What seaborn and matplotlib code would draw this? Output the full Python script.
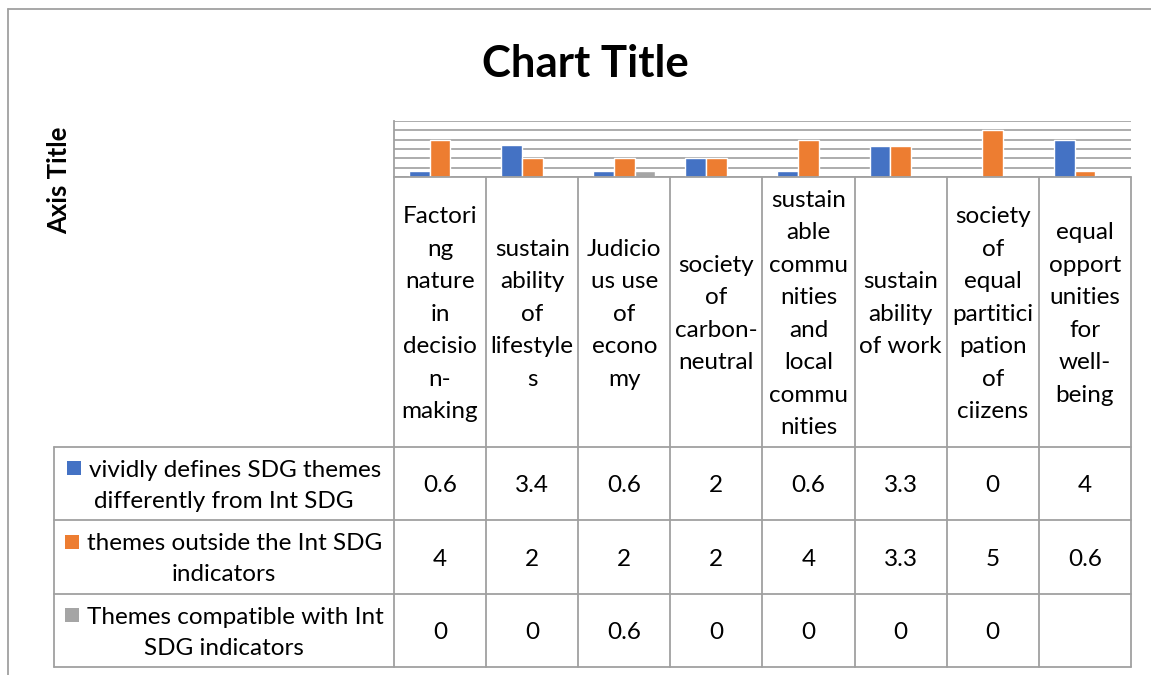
import numpy as np
import pandas as pd
import matplotlib
matplotlib.use("Agg")
import matplotlib.pyplot as plt
import seaborn as sns
from matplotlib.patches import Rectangle

sns.set_theme(style="white")
plt.rcParams["font.family"] = ["Lato", "DejaVu Sans"]

# ---- data -------------------------------------------------------------
categories = [
    "Factori\nng\nnature\nin\ndecisio\nn-\nmaking",
    "sustain\nability\nof\nlifestyle\ns",
    "Judicio\nus use\nof\necono\nmy",
    "society\nof\ncarbon-\nneutral",
    "sustain\nable\ncommu\nnities\nand\nlocal\ncommu\nnities",
    "sustain\nability\nof work",
    "society\nof\nequal\npartitici\npation\nof\nciizens",
    "equal\nopport\nunities\nfor\nwell-\nbeing",
]
series_names = [
    "vividly defines SDG themes\ndifferently from Int SDG",
    "themes outside the Int SDG\nindicators",
    "Themes compatible with Int\nSDG indicators",
]
vividly_defines = [0.6, 3.4, 0.6, 2, 0.6, 3.3, 0, 4]
outside_themes = [4, 2, 2, 2, 4, 3.3, 5, 0.6]
compatible_themes = [0, 0, 0.6, 0, 0, 0, 0, np.nan]
colors = ["#4472C4", "#ED7D31", "#A5A5A5"]

series_values = [vividly_defines, outside_themes, compatible_themes]

df = pd.DataFrame({
    "category": categories * 3,
    "series": [s for s in series_names for _ in categories],
    "value": [v for vals in series_values for v in vals],
})

# ---- layout (pixel geometry of the chart) ------------------------------
W, H = 1151, 675
fig = plt.figure(figsize=(W / 100, H / 100), dpi=100)
fig.patch.set_facecolor("white")

plot_left, plot_right = 394, 1131
plot_top, plot_bottom = 121, 177
label_col_left = 54
row_edges = [177, 447, 520, 594, 667]
grid_color = "#A6A6A6"
line_color = "#A0A0A0"
text_color = "#000000"
fs = 17.5
line_step = 32.5
legend_step = 31

ax = fig.add_axes([plot_left / W, 1 - plot_bottom / H,
                   (plot_right - plot_left) / W, (plot_bottom - plot_top) / H])
sns.barplot(data=df, x="category", y="value", hue="series",
            order=categories, hue_order=series_names, palette=colors,
            width=0.675, saturation=1, errorbar=None, legend=False, ax=ax)
ax.set_ylim(0, 6)
ax.set_xlim(-0.5, len(categories) - 0.5)
ax.set_yticks(range(0, 7))
ax.yaxis.grid(True, color=grid_color, linewidth=1.3)
ax.set_axisbelow(True)
ax.tick_params(left=False, bottom=False, labelleft=False, labelbottom=False)
ax.set_xlabel("")
ax.set_ylabel("")
for side in ["top", "right", "bottom"]:
    ax.spines[side].set_visible(False)
ax.spines["left"].set_color(line_color)
ax.spines["left"].set_linewidth(1.3)

# ---- overlay in pixel coordinates for the data table -------------------
ov = fig.add_axes([0, 0, 1, 1], facecolor="none")
ov.set_xlim(0, W)
ov.set_ylim(H, 0)
ov.axis("off")

# chart area border
ov.plot([8, W], [9, 9], color="#A0A0A0", lw=1.3)
ov.plot([8, 8], [9, H], color="#A0A0A0", lw=1.3)

# title and axis title
ov.text(585, 77, "Chart Title", ha="center", va="baseline",
        fontsize=31.5, fontweight="bold", color=text_color)
ov.text(59, 180, "Axis Title", ha="center", va="center", rotation=90,
        fontsize=18.5, fontweight="bold", color=text_color)

n = len(categories)
col_w = (plot_right - plot_left) / n
col_edges = [plot_left + i * col_w for i in range(n + 1)]

# table grid
ov.plot([plot_left, plot_right], [row_edges[0]] * 2, color=line_color, lw=1.3)
for y in row_edges[1:]:
    ov.plot([label_col_left, plot_right], [y, y], color=line_color, lw=1.3)
for x in col_edges:
    ov.plot([x, x], [row_edges[0], row_edges[-1]], color=line_color, lw=1.3)
ov.plot([label_col_left] * 2, [row_edges[1], row_edges[-1]], color=line_color, lw=1.3)

base_off = 8.7  # baseline offset from visual line centre


def draw_lines(cx, cy, lines, step):
    k = len(lines)
    for i, ln in enumerate(lines):
        y = cy + (i - (k - 1) / 2) * step
        ov.text(cx, y + base_off, ln, ha="center", va="baseline",
                fontsize=fs, color=text_color)


# category header cells
hy = (row_edges[0] + row_edges[1]) / 2
for i, cat in enumerate(categories):
    cx = (col_edges[i] + col_edges[i + 1]) / 2
    draw_lines(cx, hy, cat.split("\n"), line_step)

# value cells
for r, vals in enumerate(series_values):
    cy = (row_edges[r + 1] + row_edges[r + 2]) / 2
    for i, v in enumerate(vals):
        if np.isnan(v):
            continue
        cx = (col_edges[i] + col_edges[i + 1]) / 2
        draw_lines(cx, cy, [f"{v:g}"], line_step)

# series label cells with colour keys
key = 14
gap = 8
lab_cx = (label_col_left + plot_left) / 2
fig.canvas.draw()
renderer = fig.canvas.get_renderer()
for r, name in enumerate(series_names):
    cy = (row_edges[r + 1] + row_edges[r + 2]) / 2
    lines = name.split("\n")
    k = len(lines)
    for i, ln in enumerate(lines):
        y = cy + (i - (k - 1) / 2) * legend_step
        if i == 0:
            t = ov.text(lab_cx + (key + gap) / 2, y + base_off, ln, ha="center",
                        va="baseline", fontsize=fs, color=text_color)
            bb = t.get_window_extent(renderer=renderer)
            ov.add_patch(Rectangle((bb.x0 - gap - key, y - key / 2), key, key,
                                   facecolor=colors[r], edgecolor="none"))
        else:
            ov.text(lab_cx, y + base_off, ln, ha="center", va="baseline",
                    fontsize=fs, color=text_color)

fig.savefig("out.png", dpi=100, facecolor="white")
